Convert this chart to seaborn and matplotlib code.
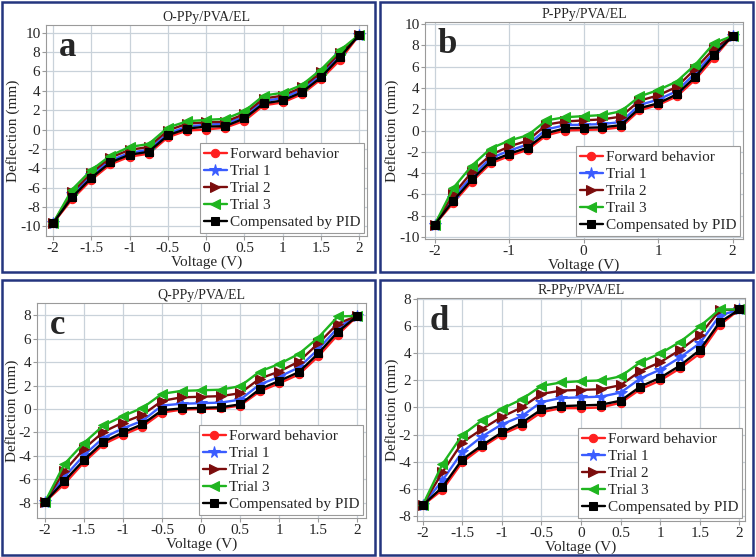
import matplotlib
matplotlib.use("Agg")
import matplotlib.pyplot as plt
from matplotlib.patches import Rectangle
import pandas as pd
import seaborn as sns

# Voltage steps shared by every panel
voltage = [-2, -1.75, -1.5, -1.25, -1, -0.75, -0.5, -0.25, 0,
           0.25, 0.5, 0.75, 1, 1.25, 1.5, 1.75, 2]

labels_std = ["Forward behavior", "Trial 1", "Trial 2", "Trial 3", "Compensated by PID"]
labels_b = ["Forward behavior", "Trial 1", "Trila 2", "Trail 3", "Compensated by PID"]

# Panel a: O-PPy/PVA/EL
a_forward = [-9.7, -7.2, -5.2, -3.6, -2.8, -2.5, -0.8, -0.1, 0.0, 0.2, 0.9, 2.5, 2.8, 3.65, 5.2, 7.2, 9.8]
a_trial1 = [-9.7, -6.7, -4.7, -3.2, -2.4, -2.1, -0.4, 0.3, 0.5, 0.6, 1.35, 2.95, 3.25, 4.1, 5.7, 7.75, 9.8]
a_trial2 = [-9.7, -6.5, -4.5, -2.9, -2.1, -1.8, -0.1, 0.6, 0.75, 0.8, 1.6, 3.2, 3.5, 4.35, 5.9, 7.95, 9.8]
a_trial3 = [-9.7, -6.2, -4.2, -2.7, -1.8, -1.5, 0.2, 0.85, 1.0, 1.1, 1.9, 3.5, 3.8, 4.6, 6.2, 8.2, 9.8]
a_pid = [-9.7, -7.0, -5.0, -3.4, -2.6, -2.3, -0.6, 0.1, 0.3, 0.35, 1.15, 2.7, 3.0, 3.85, 5.4, 7.5, 9.8]

# Panel b: P-PPy/PVA/EL
b_forward = [-8.85, -6.8, -4.8, -3.1, -2.4, -1.8, -0.45, 0.0, 0.05, 0.1, 0.3, 1.9, 2.4, 3.2, 4.8, 6.85, 8.9]
b_trial1 = [-8.85, -6.3, -4.3, -2.6, -1.9, -1.3, 0.1, 0.5, 0.55, 0.6, 0.8, 2.4, 2.9, 3.7, 5.4, 7.35, 8.9]
b_trial2 = [-8.85, -6.0, -3.9, -2.3, -1.5, -0.95, 0.55, 0.85, 0.95, 1.05, 1.3, 2.8, 3.3, 4.1, 5.8, 7.7, 8.9]
b_trial3 = [-8.85, -5.4, -3.3, -1.7, -0.95, -0.45, 0.95, 1.25, 1.35, 1.45, 1.8, 3.2, 3.8, 4.6, 6.2, 8.2, 8.9]
b_pid = [-8.85, -6.6, -4.6, -2.9, -2.2, -1.6, -0.25, 0.2, 0.25, 0.3, 0.5, 2.1, 2.55, 3.4, 5.05, 7.1, 8.9]

# Panel c: Q-PPy/PVA/EL
c_forward = [-7.95, -6.4, -4.55, -3.0, -2.2, -1.5, -0.3, -0.05, 0.0, 0.05, 0.3, 1.5, 2.2, 2.95, 4.5, 6.35, 7.95]
c_trial1 = [-7.95, -5.8, -3.95, -2.45, -1.65, -1.0, 0.3, 0.45, 0.5, 0.55, 0.8, 2.1, 2.75, 3.55, 5.1, 6.95, 7.95]
c_trial2 = [-7.95, -5.3, -3.4, -1.95, -1.15, -0.5, 0.7, 1.0, 1.05, 1.1, 1.35, 2.6, 3.2, 4.05, 5.6, 7.3, 7.95]
c_trial3 = [-7.95, -4.7, -2.9, -1.4, -0.6, 0.1, 1.3, 1.55, 1.6, 1.65, 1.95, 3.2, 3.85, 4.7, 6.1, 7.9, 7.95]
c_pid = [-7.95, -6.15, -4.35, -2.8, -2.0, -1.3, -0.1, 0.05, 0.1, 0.15, 0.4, 1.7, 2.4, 3.15, 4.75, 6.6, 7.95]

# Panel d: R-PPy/PVA/EL
d_forward = [-7.25, -6.1, -4.05, -2.95, -2.0, -1.35, -0.35, -0.05, -0.05, 0.0, 0.35, 1.35, 2.0, 2.9, 4.0, 6.1, 7.25]
d_trial1 = [-7.25, -5.4, -3.3, -2.15, -1.25, -0.65, 0.4, 0.7, 0.75, 0.8, 1.1, 2.15, 2.8, 3.7, 4.75, 6.8, 7.25]
d_trial2 = [-7.25, -4.8, -2.6, -1.6, -0.7, 0.0, 1.0, 1.25, 1.3, 1.35, 1.65, 2.7, 3.35, 4.25, 5.35, 7.2, 7.25]
d_trial3 = [-7.25, -4.2, -2.05, -0.95, -0.1, 0.6, 1.6, 1.85, 1.95, 2.0, 2.3, 3.35, 4.0, 4.85, 6.0, 7.25, 7.25]
d_pid = [-7.25, -5.9, -3.85, -2.8, -1.85, -1.15, -0.15, 0.1, 0.15, 0.2, 0.5, 1.55, 2.2, 3.1, 4.25, 6.3, 7.25]

colors = ["#ff2020", "#3a5cff", "#7b0c0c", "#1fb51f", "#000000"]
markers = ["o", "*", ">", "<", "s"]
msizes = [6, 8.5, 6.5, 6.5, 6]

sns.set_style("whitegrid")
plt.rcParams["font.family"] = ["Liberation Serif", "DejaVu Serif"]
plt.rcParams["axes.unicode_minus"] = False

fig = plt.figure(figsize=(7.56, 5.57), dpi=100)
W, H = 756, 557


def px_axes(left, top, right, bottom):
    return fig.add_axes([left / W, 1 - bottom / H, (right - left) / W, (bottom - top) / H])


def draw_panel(ax, series, names, title, letter, xlim, ylim, xticks, yticks):
    for vals, name, col, mk, ms in zip(series, names, colors, markers, msizes):
        df = pd.DataFrame({"Voltage": voltage, "Deflection": vals})
        sns.lineplot(data=df, x="Voltage", y="Deflection", ax=ax, color=col,
                     marker=mk, markersize=ms, markeredgecolor=col, linewidth=1.7,
                     label=name, legend=False)
    ax.set_xlim(xlim)
    ax.set_ylim(ylim)
    ax.set_xticks(xticks)
    ax.set_xticklabels([f"{t:g}" for t in xticks])
    ax.set_yticks(yticks)
    ax.set_yticklabels([f"{t:g}" for t in yticks])
    ax.grid(True, color="#c9d2da", linewidth=0.9)
    for s in ax.spines.values():
        s.set_color("#9a9a9a")
        s.set_linewidth(0.8)
    ax.tick_params(axis="both", labelsize=11, length=3, color="#9a9a9a", pad=1, left=True, bottom=True)
    ax.set_xlabel("Voltage (V)", fontsize=11, labelpad=0.5)
    ax.set_ylabel("Deflection (mm)", fontsize=11, labelpad=0)
    ax.set_title(title, fontsize=10, pad=3)
    ax.text(0.04, 0.855, letter, transform=ax.transAxes, fontsize=25, fontweight="bold",
            ha="left", va="baseline")
    handles, labs = ax.get_legend_handles_labels()
    leg = ax.legend(handles, labs, loc="lower right", fontsize=11, frameon=True,
                    fancybox=False, edgecolor="#9a9a9a", framealpha=1,
                    handlelength=1.5, handletextpad=0.2, labelspacing=0.22,
                    borderpad=0.25, borderaxespad=0.2)
    leg.get_frame().set_linewidth(0.8)


ax_a = px_axes(46, 25, 367, 236)
draw_panel(ax_a, [a_forward, a_trial1, a_trial2, a_trial3, a_pid], labels_std,
           "O-PPy/PVA/EL", "a", (-2.09, 2.1), (-11, 10.8),
           [-2, -1.5, -1, -0.5, 0, 0.5, 1, 1.5, 2], list(range(-10, 11, 2)))

ax_b = px_axes(425, 22, 743, 239)
draw_panel(ax_b, [b_forward, b_trial1, b_trial2, b_trial3, b_pid], labels_b,
           "P-PPy/PVA/EL", "b", (-2.13, 2.14), (-10.2, 10.2),
           [-2, -1, 0, 1, 2], list(range(-10, 11, 2)))

ax_c = px_axes(37, 303, 366, 518)
draw_panel(ax_c, [c_forward, c_trial1, c_trial2, c_trial3, c_pid], labels_std,
           "Q-PPy/PVA/EL", "c", (-2.1, 2.11), (-9.3, 9.05),
           [-2, -1.5, -1, -0.5, 0, 0.5, 1, 1.5, 2], list(range(-8, 9, 2)))

ax_d = px_axes(417, 298, 745, 521)
draw_panel(ax_d, [d_forward, d_trial1, d_trial2, d_trial3, d_pid], labels_std,
           "R-PPy/PVA/EL", "d", (-2.07, 2.07), (-8.4, 8.1),
           [-2, -1.5, -1, -0.5, 0, 0.5, 1, 1.5, 2], list(range(-8, 9, 2)))

# dark blue frames round each panel
for (l, t, r, b) in [(2, 2, 375, 272), (380, 2, 753, 272), (2, 280, 375, 555), (380, 280, 753, 555)]:
    fig.patches.append(Rectangle((l / W, 1 - b / H), (r - l) / W, (b - t) / H,
                                 transform=fig.transFigure, fill=False,
                                 edgecolor="#24357f", linewidth=1.8))

fig.savefig("out.png", dpi=100)
